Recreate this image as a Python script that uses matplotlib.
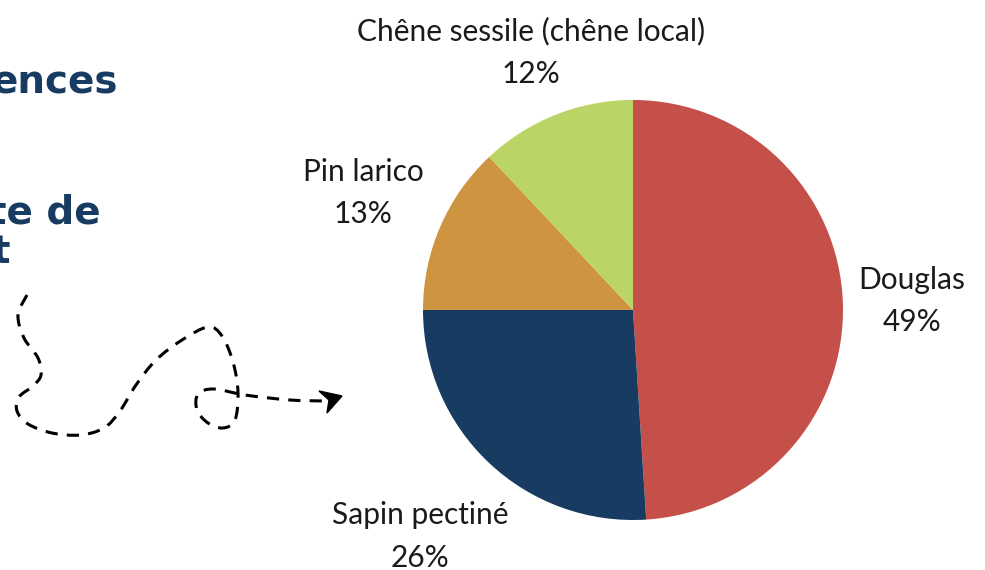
import matplotlib
matplotlib.use("Agg")
import matplotlib.pyplot as plt
import numpy as np
from matplotlib.path import Path
from matplotlib.patches import PathPatch, Polygon

# Data
species = ["Douglas", "Sapin pectiné", "Pin larico", "Chêne sessile (chêne local)"]
shares = [49, 26, 13, 12]
colors = ["#C5504A", "#183B62", "#CF9440", "#BAD466"]
# distance of each label from the centre, in pie radii
label_dist = [1.33, 1.48, 1.40, 1.32]

title_bits = ["ences", "te de", "t"]

plt.rcParams["font.family"] = ["Lato", "DejaVu Sans"]

W, H = 985, 570
fig = plt.figure(figsize=(W / 100, H / 100), dpi=100)

# decoration layer in pixel coordinates
deco = fig.add_axes([0, 0, 1, 1])
deco.set_xlim(0, W)
deco.set_ylim(H, 0)
deco.axis("off")

# pie: centre at (633, 310) px, radius 210 px
cx, cy, r = 633, 310, 210
ax = fig.add_axes([0, 0, 1, 1])
wedges, _ = ax.pie(shares, colors=colors, startangle=90, counterclock=False,
                   radius=1, wedgeprops=dict(linewidth=0))
ax.set_xlim(-cx / r, (W - cx) / r)
ax.set_ylim(-(H - cy) / r, cy / r)
ax.set_aspect("auto")
ax.axis("off")

for w, name, val, d in zip(wedges, species, shares, label_dist):
    ang = np.deg2rad((w.theta1 + w.theta2) / 2)
    ax.text(d * np.cos(ang), d * np.sin(ang), f"{name}\n{val}%",
            ha="center", va="center", fontsize=21.5, color="#1a1a1a",
            linespacing=1.62)

# cut-off heading on the left
for txt, (x, y) in zip(title_bits, [(118, 93), (101, 223), (10, 263)]):
    deco.text(x, y, txt, ha="right", va="baseline", fontsize=28,
              family="DejaVu Sans", fontweight="bold", color="#183B62")

# dashed squiggly arrow
pts = np.array([(27, 295), (18, 315), (24, 338), (38, 358), (41, 375),
                (33, 386), (19, 397), (17, 411), (28, 424), (52, 433),
                (80, 435), (104, 428), (120, 411), (136, 385), (156, 360),
                (182, 340), (208, 327), (222, 336), (233, 362), (238, 392),
                (235, 420), (223, 428), (208, 423), (197, 410), (198, 394),
                (214, 389), (245, 395), (290, 400), (326, 401)], float)
verts = [pts[0]]
codes = [Path.MOVETO]
for i in range(len(pts) - 1):
    p0 = pts[max(i - 1, 0)]
    p1 = pts[i]
    p2 = pts[i + 1]
    p3 = pts[min(i + 2, len(pts) - 1)]
    verts += [p1 + (p2 - p0) / 6, p2 - (p3 - p1) / 6, p2]
    codes += [Path.CURVE4] * 3
deco.add_patch(PathPatch(Path(verts, codes), fill=False, lw=2.2,
                         ls=(0, (4, 3)), color="black", capstyle="butt"))
deco.add_patch(Polygon([(319, 391), (342, 396), (327, 413), (329, 400)],
                       closed=True, color="black"))

fig.savefig("out.png", dpi=100, facecolor="white")
